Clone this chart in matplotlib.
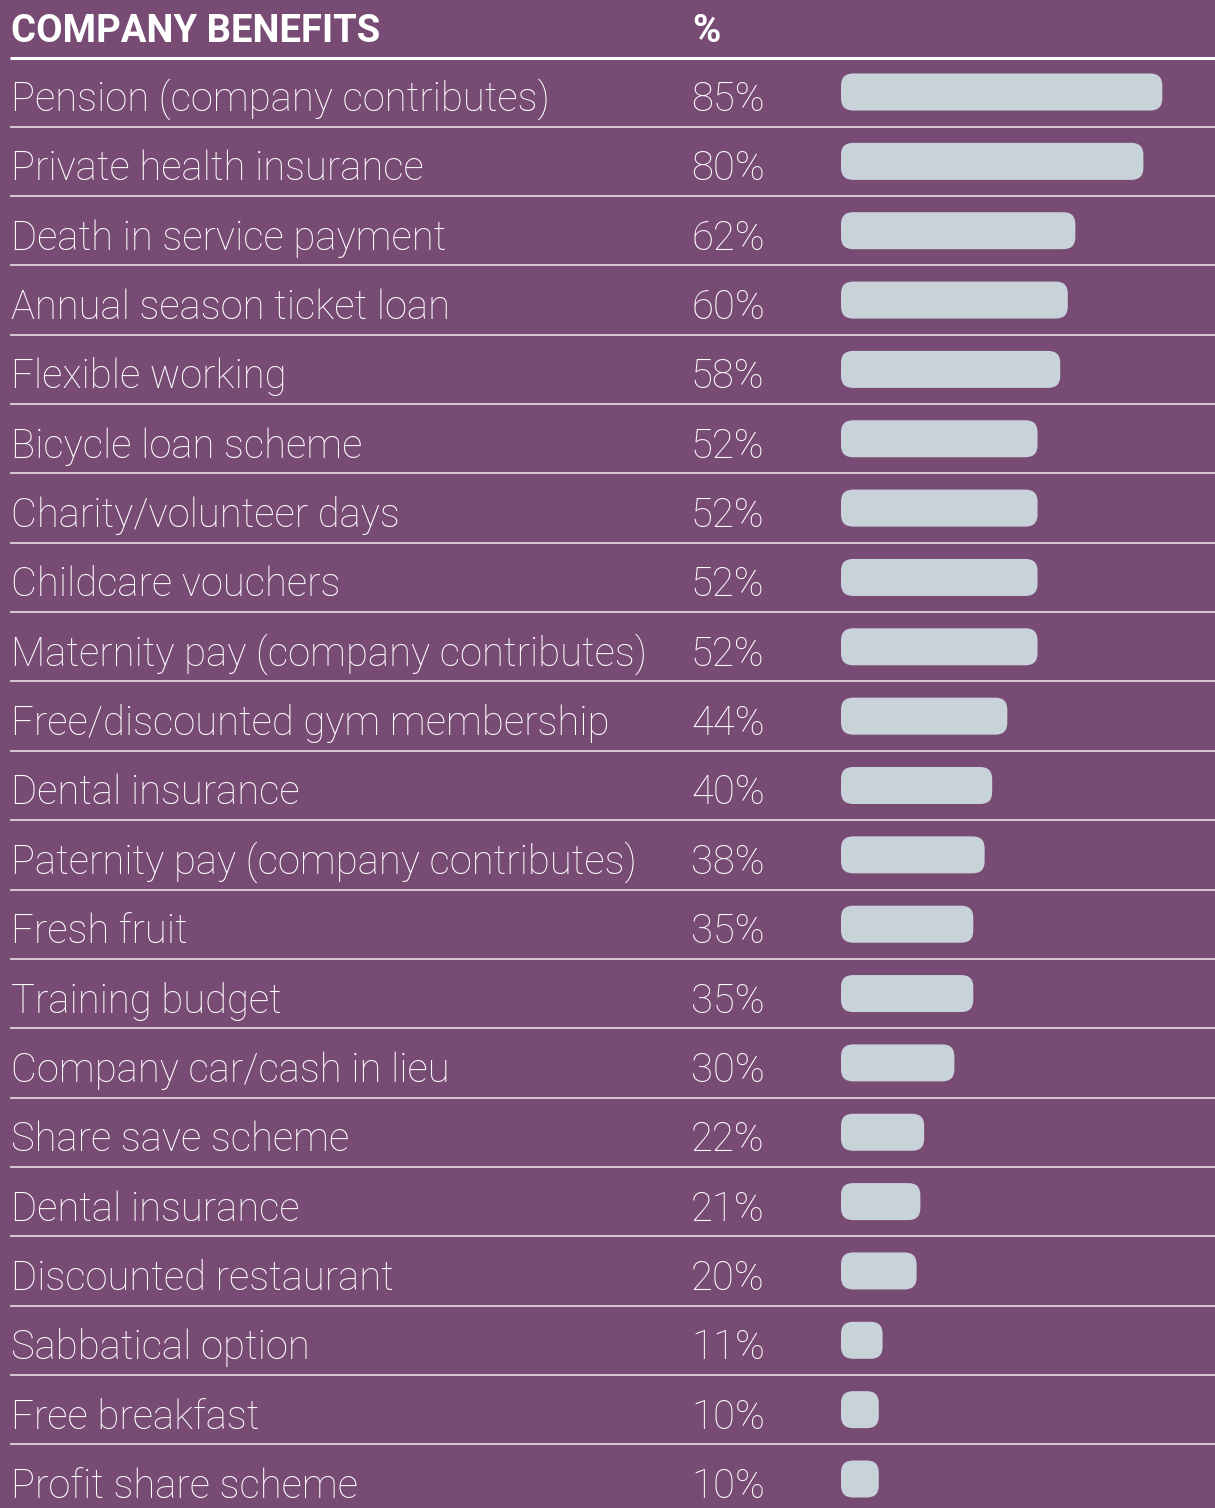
import matplotlib.pyplot as plt
from matplotlib.patches import FancyBboxPatch

benefits = [
    "Pension (company contributes)",
    "Private health insurance",
    "Death in service payment",
    "Annual season ticket loan",
    "Flexible working",
    "Bicycle loan scheme",
    "Charity/volunteer days",
    "Childcare vouchers",
    "Maternity pay (company contributes)",
    "Free/discounted gym membership",
    "Dental insurance",
    "Paternity pay (company contributes)",
    "Fresh fruit",
    "Training budget",
    "Company car/cash in lieu",
    "Share save scheme",
    "Dental insurance",
    "Discounted restaurant",
    "Sabbatical option",
    "Free breakfast",
    "Profit share scheme",
]
shares = [85, 80, 62, 60, 58, 52, 52, 52, 52, 44, 40, 38, 35, 35, 30, 22, 21, 20, 11, 10, 10]

BG = "#774b74"
BAR = "#c8d3d9"
FONT = "Roboto"

W, H = 1215, 1508
fig = plt.figure(figsize=(W / 100, H / 100), dpi=100, facecolor=BG)
ax = fig.add_axes([0, 0, 1, 1])
ax.set_facecolor(BG)
ax.set_xlim(0, W)
ax.set_ylim(H, 0)
ax.axis("off")

row_h = 69.35
first = 92
bar_x = 841
px_per_pct = 3.78
bar_h = 37

# header
ax.text(11, 42, "COMPANY BENEFITS", color="white", fontsize=27.5, fontweight="bold",
        family=FONT, va="baseline", ha="left")
ax.text(692, 42, "%", color="white", fontsize=27.5, fontweight="bold",
        family=FONT, va="baseline", ha="left")
ax.plot([10, W], [58, 58], color="white", lw=2.2, solid_capstyle="butt")

for i, (name, val) in enumerate(zip(benefits, shares)):
    yc = first + i * row_h
    ax.text(11, yc + 19, name, color="white", fontsize=28.8, fontweight="light",
            family=FONT, va="baseline", ha="left")
    ax.text(691, yc + 19, f"{val}%", color="white", fontsize=28.8, fontweight="light",
            family=FONT, va="baseline", ha="left")
    ax.add_patch(FancyBboxPatch((bar_x, yc - bar_h / 2), val * px_per_pct, bar_h,
                                boxstyle="round,pad=0,rounding_size=12",
                                fc=BAR, ec="none"))
    if i < len(benefits) - 1:
        ys = yc + row_h / 2
        ax.plot([10, W], [ys, ys], color="#e0d3de", lw=1.3, solid_capstyle="butt")

fig.savefig("out.png", dpi=100, facecolor=BG)
